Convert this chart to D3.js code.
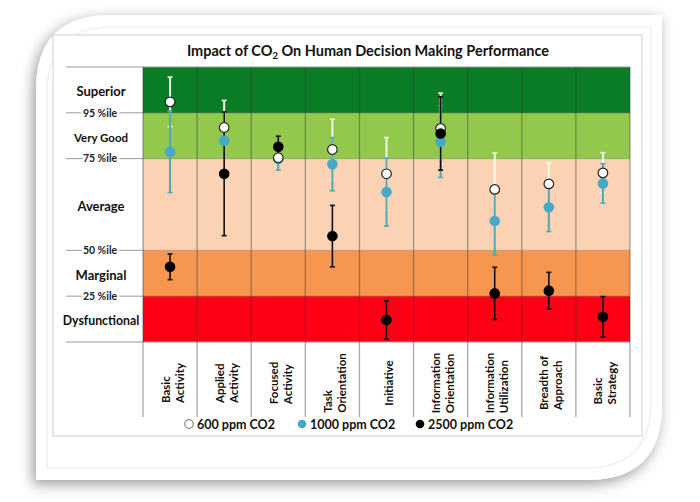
<!DOCTYPE html>
<html><head><meta charset="utf-8">
<script src="https://cdn.jsdelivr.net/npm/d3@7/dist/d3.min.js"></script>
<style>html,body{margin:0;padding:0;background:#fff;}svg{display:block;font-family:Lato,"Open Sans",sans-serif;}</style>
</head><body><svg id="c" width="700" height="502"></svg>
<script>
// ---- data ----
const categories = ["Basic Activity","Applied Activity","Focused Activity","Task Orientation","Initiative","Information Orientation","Information Utilization","Breadth of Approach","Basic Strategy"];
const categoryLines = [["Basic","Activity"],["Applied","Activity"],["Focused","Activity"],["Task","Orientation"],["Initiative"],["Information","Orientation"],["Information","Utilization"],["Breadth of","Approach"],["Basic","Strategy"]];
const bandNames = ["Dysfunctional","Marginal","Average","Very Good","Superior"];
const bandEdges = [0,1,2,4,5,6];
const bandColors = ["#fd0015","#f7964f","#fbd2b4","#92c94d","#0a7c25"];
const tickValues = [1,2,4,5];
const tickLabels = ["25 %ile","50 %ile","75 %ile","95 %ile"];
const seriesNames = ["600 ppm CO2","1000 ppm CO2","2500 ppm CO2"];
const v600  = [5.24,4.68,4.02,4.20,3.67,4.66,3.33,3.45,3.69];
const e600  = [0.54,0.59,0.08,0.66,0.79,0.77,0.80,0.46,0.44];
const v1000 = [4.15,4.39,3.99,3.88,3.27,4.37,2.64,2.94,3.46];
const e1000 = [0.89,0.30,0.24,0.58,0.74,0.78,0.74,0.53,0.43];
const v2500 = [1.64,3.67,4.26,2.31,0.48,4.55,1.06,1.12,0.55];
const e2500 = [0.28,1.35,0.23,0.67,0.42,0.80,0.57,0.40,0.44];

const svg = d3.select("#c");
const defs = svg.append("defs");
const f = defs.append("filter").attr("id","sh").attr("x","-20%").attr("y","-20%").attr("width","140%").attr("height","140%");
f.append("feDropShadow").attr("dx",-3).attr("dy",4).attr("stdDeviation",7).attr("flood-color","#000").attr("flood-opacity",0.4);

// card with rounded top-left and bottom-right
function cardPath(x0,y0,x1,y1,r){
  return `M${x0},${y0+r} Q${x0},${y0} ${x0+r},${y0} L${x1},${y0} L${x1},${y1-r} Q${x1},${y1} ${x1-r},${y1} L${x0},${y1} Z`;
}
svg.append("path").attr("d",cardPath(36,15,662,480,75)).attr("fill","#fff").attr("filter","url(#sh)");
svg.append("path").attr("d",cardPath(47,27,651,468,66)).attr("fill","none").attr("stroke","#ececec").attr("stroke-width",1.2);
svg.append("rect").attr("x",53).attr("y",35).attr("width",589).attr("height",401).attr("fill","#fff").attr("stroke","#cfcfcf");

// title
const t = svg.append("text").attr("x",368).attr("y",56).attr("text-anchor","middle").attr("font-weight","bold").attr("font-size",14.5).attr("fill","#111");
t.append("tspan").text("Impact of CO");
t.append("tspan").attr("font-size",9.5).attr("dy",3).text("2");
t.append("tspan").attr("dy",-3).text(" On Human Decision Making Performance");

// scales
const x = d3.scaleBand().domain(categories).range([143,630]);
const y = d3.scaleLinear().domain([0,6]).range([342,67]);

// bands
const bands = bandNames.map((n,i)=>({n,lo:bandEdges[i],hi:bandEdges[i+1],c:bandColors[i]}));
svg.selectAll("rect.band").data(bands).join("rect").attr("class","band")
  .attr("x",x.range()[0]).attr("width",x.range()[1]-x.range()[0])
  .attr("y",d=>y(d.hi)).attr("height",d=>y(d.lo)-y(d.hi)).attr("fill",d=>d.c);
svg.selectAll("line.bb").data(tickValues).join("line").attr("class","bb")
  .attr("x1",143).attr("x2",630).attr("y1",d=>y(d)).attr("y2",d=>y(d)).attr("stroke","rgba(0,0,0,0.22)");

// left axis lines
svg.selectAll("line.ll").data(bandEdges).join("line").attr("class","ll")
  .attr("x1",66).attr("x2",d=>(d===0||d===6)?630:143).attr("y1",d=>y(d)).attr("y2",d=>y(d)).attr("stroke","#9a9a9a").attr("stroke-width",1);
svg.selectAll("text.tl").data(tickValues).join("text").attr("class","tl")
  .attr("x",100).attr("y",d=>y(d)).attr("dy","0.35em").attr("text-anchor","middle")
  .attr("font-size",10.5).attr("font-weight","bold").attr("fill","#222")
  .attr("stroke","#fff").attr("stroke-width",5).attr("paint-order","stroke").attr("stroke-linejoin","round")
  .text((d,i)=>tickLabels[i]);
svg.selectAll("text.bl").data(bands).join("text").attr("class","bl")
  .attr("x",101).attr("y",d=>(y(d.lo)+y(d.hi))/2+2).attr("dy","0.35em").attr("text-anchor","middle")
  .attr("font-size",d=>d.n==="Very Good"?11.5:(d.n==="Dysfunctional"?12.3:13)).attr("font-weight","bold").attr("fill","#111")
  .text(d=>d.n);

// vertical lines
const edges = categories.map(c=>x(c)).concat([x.range()[1]]);
svg.selectAll("line.vl").data(edges).join("line").attr("class","vl")
  .attr("x1",d=>d).attr("x2",d=>d).attr("y1",67).attr("y2",417)
  .attr("stroke","rgba(60,60,60,0.45)").attr("stroke-width",1.3);

// category labels
const cg = svg.selectAll("g.cat").data(categories).join("g").attr("class","cat");
cg.each(function(c,i){
  const g = d3.select(this);
  const lines = categoryLines[i];
  const cx = x(c)+x.bandwidth()/2+2.5;
  const n = lines.length;
  const tx = g.selectAll("text").data(lines).join("text")
    .attr("font-size",11.5).attr("font-weight","bold").attr("fill","#111")
    .text(d=>d);
  let maxLen = 0; tx.each(function(){maxLen=Math.max(maxLen,this.getComputedTextLength());});
  const ys = 383 + maxLen/2;
  tx.attr("transform",(d,j)=>`translate(${cx + (j-(n-1)/2)*14 + 4},${ys}) rotate(-90)`);
});

// error bars & points
const series = [
  {v:v600,e:e600,line:"#eefbe6",fill:"#fff",stroke:"#222",w:2},
  {v:v1000,e:e1000,line:"#52a6b6",fill:"#47a9c7",stroke:"none",w:2},
  {v:v2500,e:e2500,line:"#111",fill:"#000",stroke:"none",w:1.6}
];
const cxOf = i=>x(categories[i])+x.bandwidth()/2;
series.forEach(s=>{
  const g = svg.append("g");
  const d = categories.map((c,i)=>({i,v:s.v[i],e:s.e[i]}));
  g.selectAll("line.eb").data(d).join("line").attr("x1",d=>cxOf(d.i)).attr("x2",d=>cxOf(d.i))
    .attr("y1",d=>y(d.v+d.e)).attr("y2",d=>y(d.v-d.e)).attr("stroke",s.line).attr("stroke-width",s.w);
  ["+","-"].forEach(sg=>{
    g.selectAll("line.cap"+(sg==="+"?"t":"b")).data(d).join("line").attr("class","cap"+(sg==="+"?"t":"b"))
      .attr("x1",d=>cxOf(d.i)-2.5).attr("x2",d=>cxOf(d.i)+2.5)
      .attr("y1",d=>y(sg==="+"?d.v+d.e:d.v-d.e)).attr("y2",d=>y(sg==="+"?d.v+d.e:d.v-d.e))
      .attr("stroke",s.line).attr("stroke-width",1.6);
  });
});
[1,0,2].forEach(k=>{
  const s = series[k];
  svg.append("g").selectAll("circle").data(s.v).join("circle")
    .attr("cx",(v,i)=>cxOf(i)).attr("cy",v=>y(v)).attr("r",k===0?4.8:5.3)
    .attr("fill",s.fill).attr("stroke",s.stroke).attr("stroke-width",1.2);
});

// legend
const lg = svg.append("g");
const legX = [189,302,420];
seriesNames.forEach((n,i)=>{
  lg.append("circle").attr("cx",legX[i]).attr("cy",424).attr("r",4.3)
    .attr("fill",i===0?"#fff":series[i].fill).attr("stroke",i===0?"#888":"none").attr("stroke-width",1.2);
  lg.append("text").attr("x",legX[i]+8).attr("y",424).attr("dy","0.36em").attr("font-size",12.5).attr("font-weight","bold").attr("fill","#111").text(n);
});
</script></body></html>
